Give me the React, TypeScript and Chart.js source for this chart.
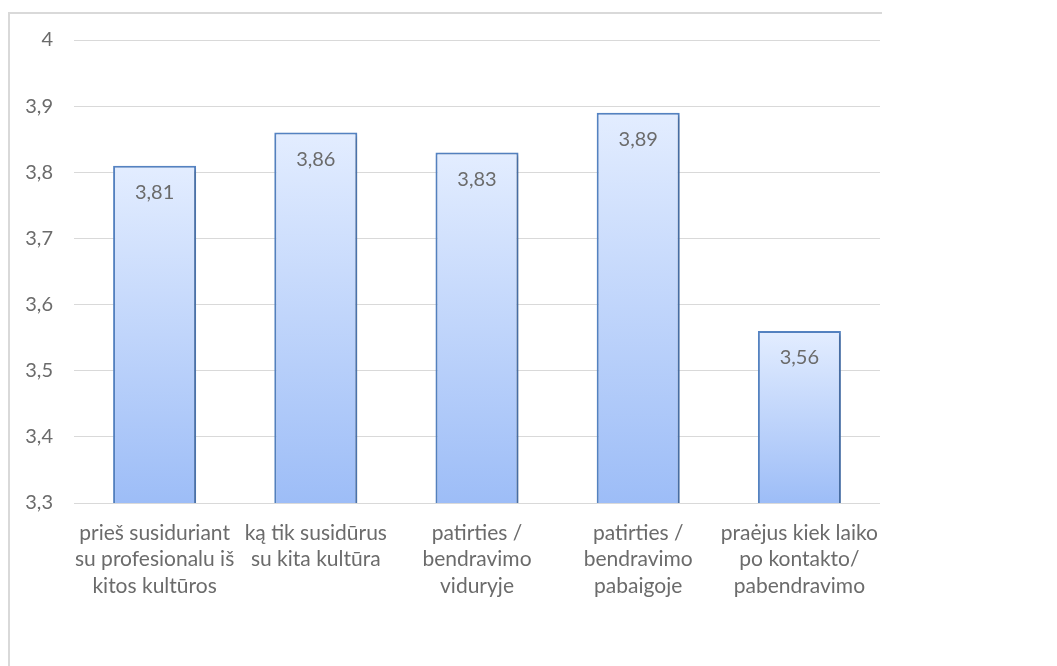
import React, { useEffect, useRef } from "react";
import { Chart, registerables } from "chart.js";

Chart.register(...registerables);

const categories: string[][] = [
  ["prieš susiduriant", "su profesionalu iš", "kitos kultūros"],
  ["ką tik susidūrus", "su kita kultūra"],
  ["patirties /", "bendravimo", "viduryje"],
  ["patirties /", "bendravimo", "pabaigoje"],
  ["praėjus kiek laiko", "po kontakto/", "pabendravimo"],
];
const values: number[] = [3.81, 3.86, 3.83, 3.89, 3.56];
const valueLabels: string[] = ["3,81", "3,86", "3,83", "3,89", "3,56"];
const yMin = 3.3;
const yMax = 4;
const yStep = 0.1;

const FONT = "Lato, 'Open Sans', sans-serif";
const TEXT = "#6b6b6b";

export default function App() {
  const ref = useRef<HTMLCanvasElement | null>(null);

  useEffect(() => {
    if (!ref.current) return;
    const labelPlugin = {
      id: "valueLabels",
      beforeDatasetsDraw(chart: any) {
        const ctx = chart.ctx;
        ctx.save();
        ctx.shadowColor = "rgba(0,0,0,0.22)";
        ctx.shadowBlur = 4;
        ctx.shadowOffsetX = 2;
        ctx.shadowOffsetY = 2;
      },
      afterDatasetsDraw(chart: any) {
        const ctx = chart.ctx;
        ctx.restore();
        const meta = chart.getDatasetMeta(0);
        ctx.save();
        ctx.fillStyle = TEXT;
        ctx.font = `20px ${FONT}`;
        ctx.textAlign = "center";
        ctx.textBaseline = "middle";
        meta.data.forEach((el: any, i: number) => {
          ctx.fillText(valueLabels[i], el.x, el.y + 27);
        });
        ctx.restore();
      },
    };

    const chart = new Chart(ref.current, {
      type: "bar",
      data: {
        labels: categories,
        datasets: [
          {
            data: values,
            backgroundColor: (c: any) => {
              const ch = c.chart;
              const ys = ch.scales && ch.scales.y;
              if (!ys || c.dataIndex === undefined) return "#c0d5fb";
              const top = ys.getPixelForValue(values[c.dataIndex]);
              const bot = ys.getPixelForValue(yMin);
              if (!isFinite(top) || !isFinite(bot) || top === bot) return "#c0d5fb";
              const g = ch.ctx.createLinearGradient(0, top, 0, bot);
              g.addColorStop(0, "#e3edff");
              g.addColorStop(1, "#9dbdf7");
              return g;
            },
            borderColor: "#5583c3",
            borderWidth: 2,
            borderSkipped: false,
            categoryPercentage: 1,
            barPercentage: 0.515,
          },
        ],
      },
      options: {
        animation: false,
        responsive: false,
        maintainAspectRatio: false,
        layout: { padding: { left: 0, top: 40, right: 177, bottom: 0 } },
        plugins: {
          legend: { display: false },
          tooltip: { enabled: false },
        },
        scales: {
          x: {
            grid: { display: false, drawTicks: false },
            border: { display: false },
            ticks: {
              color: TEXT,
              padding: 17,
              maxRotation: 0,
              autoSkip: false,
              font: { family: FONT, size: 21, lineHeight: 1.26 },
            },
            afterFit: (s: any) => {
              s.height = 163;
            },
          },
          y: {
            min: yMin,
            max: yMax,
            grid: { color: "#d9d9d9", lineWidth: 1, drawTicks: false },
            border: { display: false },
            ticks: {
              stepSize: yStep,
              color: TEXT,
              padding: 21,
              font: { family: FONT, size: 20 },
              callback: (v: any) => {
                const n = Math.round(Number(v) * 10) / 10;
                return Number.isInteger(n) ? String(n) : n.toFixed(1).replace(".", ",");
              },
            },
            afterFit: (s: any) => {
              s.width = 74;
            },
          },
        },
      },
      plugins: [labelPlugin],
    } as any);
    return () => chart.destroy();
  }, []);

  return (
    <div style={{ position: "absolute", left: 0, top: 0, width: 1057, height: 666, background: "#fff", overflow: "hidden" }}>
      <div
        style={{
          position: "absolute",
          left: 8,
          top: 12,
          width: 872,
          height: 700,
          borderLeft: "2px solid #d9d9d9",
          borderTop: "2px solid #d9d9d9",
        }}
      />
      <canvas ref={ref} width={1057} height={666} style={{ position: "absolute", left: 0, top: 0 }} />
    </div>
  );
}
